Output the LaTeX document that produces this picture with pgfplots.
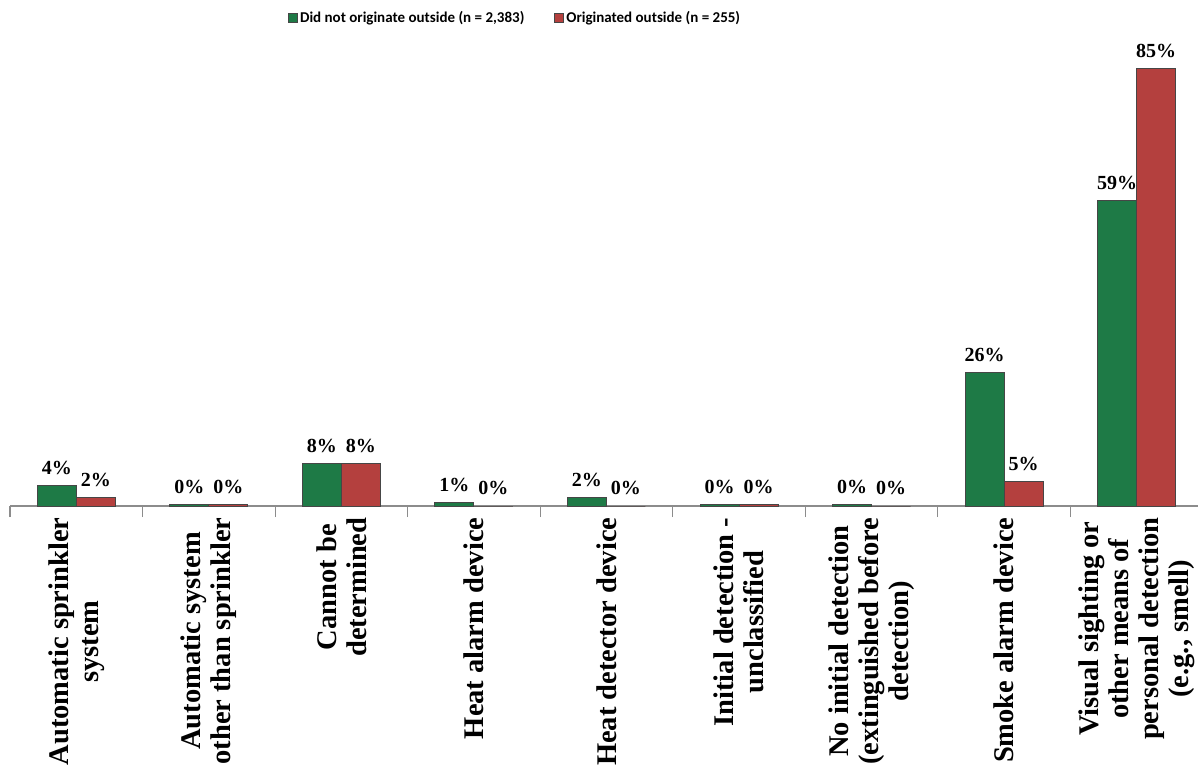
\documentclass[border=0pt]{standalone}
\usepackage{fontspec}
\setmainfont{Liberation Serif}
\newfontfamily\calibri{Carlito}
\usepackage{pgfplots}
\pgfplotsset{compat=1.18}
\definecolor{gbar}{RGB}{30,122,70}
\definecolor{rbar}{RGB}{180,64,62}
\definecolor{axgray}{RGB}{140,140,140}
\definecolor{edge}{RGB}{70,70,70}

\begin{document}
\begin{tikzpicture}
\begin{axis}[
    scale only axis,
    width=1193pt, height=490pt,
    xmin=-0.5, xmax=8.5,
    ymin=0, ymax=95,
    axis x line=bottom, axis y line=none,
    axis line style={-, axgray, line width=1.5pt},
    ybar=0pt, bar width=39pt,
    clip=false,
    xtick={0,...,8},
    tick align=outside,
    major tick length=8pt,
    major tick style={draw=none},
    minor xtick={-0.5,0.5,1.5,2.5,3.5,4.5,5.5,6.5,7.5,8.5},
    minor tick length=11pt,
    minor tick style={axgray, line width=1.2pt},
    xticklabels={
        {Automatic sprinkler\\system},
        {Automatic system\\other than sprinkler},
        {Cannot be\\determined},
        {Heat alarm device},
        {Heat detector device},
        {Initial detection -\\unclassified},
        {No initial detection\\(extinguished before\\detection)},
        {Smoke alarm device},
        {Visual sighting or\\other means of\\personal detection\\(e.g., smell)}},
    x tick label style={rotate=90, anchor=east, align=center,
        font=\fontsize{28.5}{30}\selectfont\bfseries},
    ytick=\empty,
    nodes near coords,
    point meta=explicit symbolic,
    every node near coord/.append style={font=\fontsize{20}{21}\selectfont\bfseries,
        black, yshift=7pt},
    legend style={at={(0.2304,1.018)}, anchor=north west, draw=none, fill=none,
        legend columns=2, font=\fontsize{15}{17}\calibri\bfseries,
        /tikz/every even column/.append style={column sep=28pt}},
    legend image code/.code={\draw[#1, draw=edge] (0pt,-4.5pt) rectangle (9pt,4.5pt);},
]
% Did not originate outside
\addplot[fill=gbar, draw=edge, line width=1pt] coordinates {
    (0,3.9) [4\%] (1,0.35) [0\%] (2,8.2) [8\%] (3,0.6) [1\%] (4,1.7) [2\%]
    (5,0.35) [0\%] (6,0.35) [0\%] (7,25.9) [26\%] (8,59.3) [59\%]
};
% Originated outside
\addplot[fill=rbar, draw=edge, line width=1pt] coordinates {
    (0,1.7) [2\%] (1,0.35) [0\%] (2,8.2) [8\%] (3,0) [0\%] (4,0) [0\%]
    (5,0.35) [0\%] (6,0) [0\%] (7,4.8) [5\%] (8,84.9) [85\%]
};
\legend{{Did not originate outside (n = 2,383)}, {Originated outside (n = 255)}}
\end{axis}
\pgfresetboundingbox
\path (current axis.south west) ++(-10pt,-270pt) rectangle ++(1198pt,776pt);
\end{tikzpicture}
\end{document}
